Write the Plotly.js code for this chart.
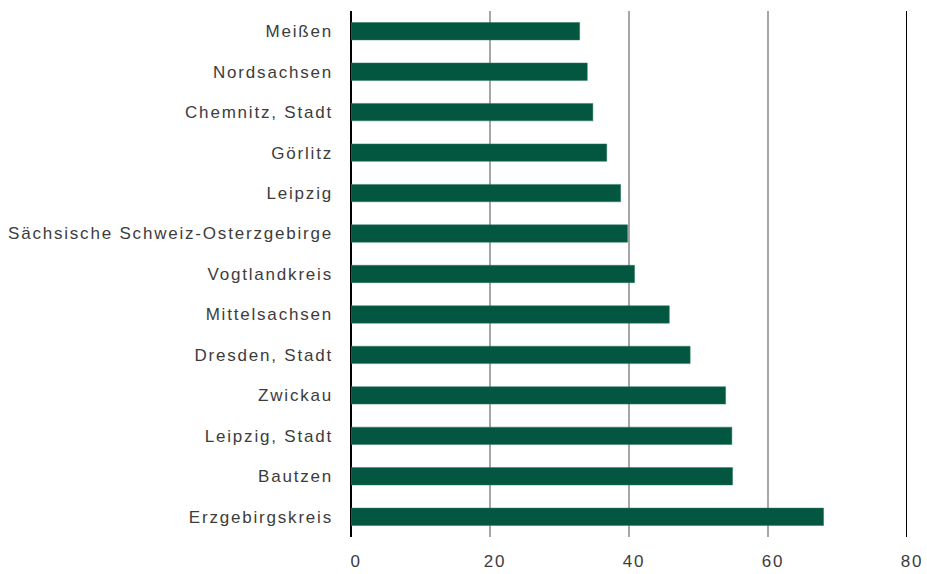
<!DOCTYPE html>
<html>
<head>
<meta charset="utf-8">
<script src="https://cdn.plot.ly/plotly-3.0.1.min.js"></script>
<style>
html,body{margin:0;padding:0;background:#fff;}
#chart{width:927px;height:574px;}
#chart .xtick text, #chart .ytick text{letter-spacing:1.8px;}
</style>
</head>
<body>
<div id="chart"></div>
<script>
const regions = ["Meißen","Nordsachsen","Chemnitz, Stadt","Görlitz","Leipzig","Sächsische Schweiz-Osterzgebirge","Vogtlandkreis","Mittelsachsen","Dresden, Stadt","Zwickau","Leipzig, Stadt","Bautzen","Erzgebirgskreis"];
const values = [32.9,34.0,34.8,36.8,38.8,39.8,40.8,45.8,48.8,53.9,54.8,54.9,68.0];
const xTicks = [0,20,40,60,80];

const trace = {
  type: 'bar', orientation: 'h',
  x: values, y: regions,
  marker: {color: '#03563f', line: {color: '#2f7a63', width: 0.5}},
  width: 0.43,
  hoverinfo: 'x+y'
};
const layout = {
  width: 927, height: 574,
  margin: {l: 351, r: 20, t: 11, b: 37},
  paper_bgcolor: '#fff', plot_bgcolor: '#fff',
  showlegend: false,
  font: {family: 'Liberation Sans, Arial, sans-serif', color: '#3c3c3c', size: 17},
  xaxis: {
    range: [0, 80], tickvals: xTicks, ticktext: xTicks.map(String),
    showgrid: true, gridcolor: '#a6a6a6', gridwidth: 1.5,
    zeroline: true, zerolinecolor: '#000', zerolinewidth: 2,
    showline: false, ticks: '', fixedrange: true, ticklabelstandoff: 12, ticklabelshift: 5,
    tickfont: {size: 17, color: '#3c3c3c'}
  },
  yaxis: {
    autorange: 'reversed', showgrid: false, zeroline: false, showline: false,
    ticks: '', ticklabelstandoff: 17,
    tickfont: {size: 17, color: '#3c3c3c'}
  },
  shapes: [{type: 'line', xref: 'x', yref: 'paper', x0: 80, x1: 80, y0: 0, y1: 1,
            line: {color: '#000', width: 2}}]
};
Plotly.newPlot('chart', [trace], layout, {displayModeBar: false, staticPlot: true});
</script>
</body>
</html>
